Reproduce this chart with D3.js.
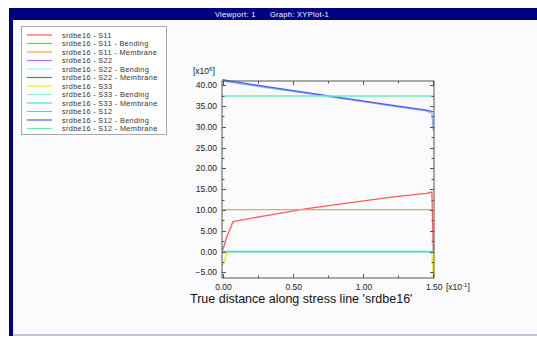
<!DOCTYPE html>
<html>
<head>
<meta charset="utf-8">
<script src="https://cdn.jsdelivr.net/npm/d3@7"></script>
<style>
  html, body { margin: 0; padding: 0; background: #ffffff; }
  svg { display: block; }
  text { font-family: "Liberation Sans", Arial, sans-serif; }
</style>
</head>
<body>
<div id="chart"></div>
<script>
// distance along the stress line [x10^-1]
const distance = [0, 0.03, 0.075, 0.3, 0.6, 0.9, 1.2, 1.45, 1.49, 1.5];

// series values [x10^6], one per distance point
const s11          = [0.2, 3.5, 7.2, 8.6, 10.3, 11.7, 13.1, 14.0, 14.3, 0.2];
const s11Bending   = [0, 0, 0, 0, 0, 0, 0, 0, 0, 0];
const s11Membrane  = [10.1, 10.1, 10.1, 10.1, 10.1, 10.1, 10.1, 10.1, 10.1, 10.1];
const s22          = [0, 0, 0, 0, 0, 0, 0, 0, 0, 0];
const s22Bending   = [0, 0, 0, 0, 0, 0, 0, 0, 0, 0];
const s22Membrane  = [0, 0, 0, 0, 0, 0, 0, 0, 0, 0];
const s33          = [-3.5, -0.4, 0, 0, 0, 0, 0, 0, 0, -6.5];
const s33Bending   = [-0.15, -0.15, -0.15, -0.15, -0.15, -0.15, -0.15, -0.15, -0.15, -0.15];
const s33Membrane  = [0.05, 0.05, 0.05, 0.05, 0.05, 0.05, 0.05, 0.05, 0.05, 0.05];
const s12          = [41.0, 40.85, 40.6, 39.5, 38.0, 36.5, 35.0, 33.8, 33.2, 29.0];
const s12Bending   = [41.3, 41.15, 40.9, 39.7, 38.2, 36.7, 35.2, 34.0, 33.7, 33.6];
const s12Membrane  = [37.4, 37.4, 37.4, 37.4, 37.4, 37.4, 37.4, 37.4, 37.4, 37.4];

const seriesNames = [
  "srdbe16 - S11", "srdbe16 - S11 - Bending", "srdbe16 - S11 - Membrane",
  "srdbe16 - S22", "srdbe16 - S22 - Bending", "srdbe16 - S22 - Membrane",
  "srdbe16 - S33", "srdbe16 - S33 - Bending", "srdbe16 - S33 - Membrane",
  "srdbe16 - S12", "srdbe16 - S12 - Bending", "srdbe16 - S12 - Membrane"
];
const seriesValues = [
  s11, s11Bending, s11Membrane,
  s22, s22Bending, s22Membrane,
  s33, s33Bending, s33Membrane,
  s12, s12Bending, s12Membrane
];
const seriesColors = [
  "#ff5a5a", "#40e040", "#ff9d40",
  "#b070ff", "#80ffff", "#6a7a6a",
  "#f0f000", "#90f0e0", "#30e0f0",
  "#80b0ff", "#4a5cff", "#60f0b0"
];

const xTicks = [0, 0.5, 1.0, 1.5];
const yTicks = [-5, 0, 5, 10, 15, 20, 25, 30, 35, 40];

const W = 537, H = 338;
const svg = d3.select("#chart").append("svg")
  .attr("width", W).attr("height", H);

// window frame
svg.append("rect").attr("x", 9).attr("y", 8).attr("width", W - 9).attr("height", 328)
  .attr("fill", "#000080");
svg.append("rect").attr("x", 13).attr("y", 20).attr("width", W - 13).attr("height", 314)
  .attr("fill", "#fbfbfd");
svg.append("rect").attr("x", 13).attr("y", 334).attr("width", W - 13).attr("height", 2)
  .attr("fill", "#c4c4e4");
svg.append("text").attr("x", 272).attr("y", 16.5)
  .attr("text-anchor", "middle").attr("fill", "#ffffff")
  .attr("font-size", 7.5).attr("letter-spacing", 0.3)
  .attr("xml:space", "preserve")
  .text("Viewport: 1      Graph: XYPlot-1");

// plot area
const pLeft = 222, pRight = 434, pTop = 81, pBottom = 278;
const x = d3.scaleLinear().domain([0, 1.505]).range([pLeft + 0.5, pRight]);
const y = d3.scaleLinear().domain([-6.35, 41.0]).range([pBottom, pTop]);

svg.append("clipPath").attr("id", "plotclip")
  .append("rect").attr("x", pLeft).attr("y", pTop - 2)
  .attr("width", pRight - pLeft).attr("height", pBottom - pTop + 2);

const line = d3.line()
  .x((d, i) => x(distance[i]))
  .y(d => y(d));

svg.append("g").attr("clip-path", "url(#plotclip)")
  .selectAll("path").data(seriesValues).join("path")
  .attr("d", d => line(d))
  .attr("fill", "none")
  .attr("stroke", (d, i) => seriesColors[i])
  .attr("stroke-width", 1.3);

// box with inward ticks
const yMinor = d3.range(-5, 41, 2.5);
const xMinor = d3.range(0, 1.51, 0.25);
const axes = svg.append("g").attr("stroke", "#555").attr("stroke-width", 1);
axes.append("rect").attr("x", pLeft).attr("y", pTop)
  .attr("width", pRight - pLeft).attr("height", pBottom - pTop)
  .attr("fill", "none");
axes.selectAll(".yt").data(yMinor).join("line")
  .attr("x1", pLeft).attr("x2", d => pLeft + (yTicks.includes(d) ? 4 : 2.5))
  .attr("y1", d => Math.round(y(d)) + 0.5).attr("y2", d => Math.round(y(d)) + 0.5);
axes.selectAll(".yr").data(yMinor).join("line")
  .attr("x1", pRight).attr("x2", d => pRight - (yTicks.includes(d) ? 4 : 2.5))
  .attr("y1", d => Math.round(y(d)) + 0.5).attr("y2", d => Math.round(y(d)) + 0.5);
axes.selectAll(".xt").data(xMinor).join("line")
  .attr("y1", pBottom).attr("y2", d => pBottom - (xTicks.includes(d) ? 4 : 2.5))
  .attr("x1", d => Math.round(x(d)) + 0.5).attr("x2", d => Math.round(x(d)) + 0.5);
axes.selectAll(".xtop").data(xMinor).join("line")
  .attr("y1", pTop).attr("y2", d => pTop + (xTicks.includes(d) ? 4 : 2.5))
  .attr("x1", d => Math.round(x(d)) + 0.5).attr("x2", d => Math.round(x(d)) + 0.5);

// tick labels
svg.append("g").selectAll("text").data(yTicks).join("text")
  .attr("x", 217).attr("y", d => y(d) + 3)
  .attr("text-anchor", "end").attr("font-size", 8.5).attr("fill", "#222")
  .text(d => d3.format(".2f")(d));
svg.append("g").selectAll("text").data(xTicks).join("text")
  .attr("x", d => x(d) + 1).attr("y", 290)
  .attr("text-anchor", "middle").attr("font-size", 8.5).attr("fill", "#222")
  .text(d => d3.format(".2f")(d));

const xUnit = svg.append("text").attr("x", 446).attr("y", 290)
  .attr("font-size", 8.5).attr("fill", "#222");
xUnit.append("tspan").text("[x10");
xUnit.append("tspan").attr("dy", -3).attr("font-size", 6).text("-1");
xUnit.append("tspan").attr("dy", 3).text("]");

const yUnit = svg.append("text").attr("x", 193).attr("y", 74)
  .attr("font-size", 8.5).attr("fill", "#222");
yUnit.append("tspan").text("[x10");
yUnit.append("tspan").attr("dy", -3).attr("font-size", 6).text("6");
yUnit.append("tspan").attr("dy", 3).text("]");

svg.append("text").attr("x", 190).attr("y", 303)
  .attr("font-size", 12.5).attr("fill", "#111")
  .text("True distance along stress line 'srdbe16'");

// legend
const lg = svg.append("g");
lg.append("rect").attr("x", 21.5).attr("y", 26.5).attr("width", 145).attr("height", 108)
  .attr("fill", "#ffffff").attr("stroke", "#a8a8a8");
const rows = lg.selectAll("g").data(seriesNames).join("g")
  .attr("transform", (d, i) => `translate(0, ${35 + i * 8.5})`);
rows.append("line").attr("x1", 27).attr("x2", 52).attr("y1", 0).attr("y2", 0)
  .attr("stroke", (d, i) => seriesColors[i]).attr("stroke-width", 1.2);
rows.append("text").attr("x", 62).attr("y", 2.6)
  .attr("font-size", 7.3).attr("letter-spacing", 0.35).attr("fill", "#333")
  .text(d => d);
</script>
</body>
</html>
